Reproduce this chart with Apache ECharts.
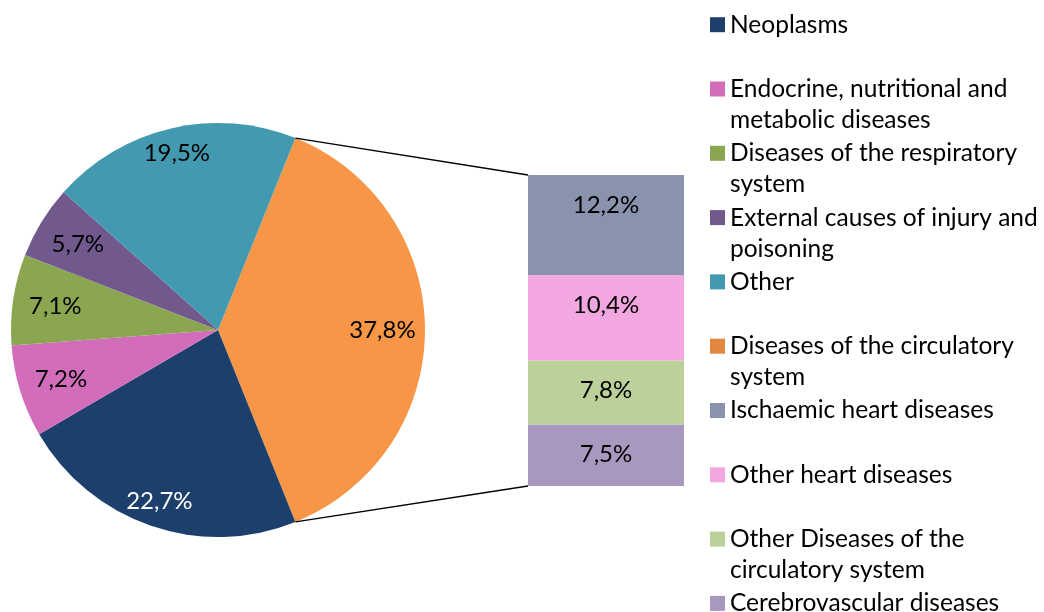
<!DOCTYPE html>
<html><head><meta charset="utf-8">
<script src="https://cdn.jsdelivr.net/npm/echarts@6/dist/echarts.min.js"></script>
<style>html,body{margin:0;padding:0;background:#fff}#c{width:1044px;height:612px}</style>
</head><body><div id="c"></div>
<script>
// ---- data ----
const pieNames = ['Diseases of the circulatory\nsystem', 'Neoplasms', 'Endocrine, nutritional and\nmetabolic diseases', 'Diseases of the respiratory\nsystem', 'External causes of injury and\npoisoning', 'Other'];
const pieValues = [37.8, 22.7, 7.2, 7.1, 5.7, 19.5];
const pieColors = ['#F79646', '#1C3F6B', '#D26DBB', '#8BA651', '#71598E', '#4399B0'];
const pieLabelColors = ['#000', '#fff', '#000', '#000', '#000', '#000'];
const pieLabelOuter = [false, true, false, false, false, true];

const barNames = ['Ischaemic heart diseases', 'Other heart diseases', 'Other Diseases of the\ncirculatory system', 'Cerebrovascular diseases'];
const barValues = [12.2, 10.4, 7.8, 7.5];
const barColors = ['#8A93AD', '#F2A7E0', '#BCD09A', '#A898BF'];

const legendNames = ['Neoplasms', 'Endocrine, nutritional and\nmetabolic diseases', 'Diseases of the respiratory\nsystem', 'External causes of injury and\npoisoning', 'Other', 'Diseases of the circulatory\nsystem', 'Ischaemic heart diseases', 'Other heart diseases', 'Other Diseases of the\ncirculatory system', 'Cerebrovascular diseases'];
const legendColors = ['#1C3F6B', '#D26DBB', '#8BA651', '#71598E', '#4399B0', '#E0883F', '#8A93AD', '#F2A7E0', '#BCD09A', '#A898BF'];

// ---- layout ----
const FONT = 'Lato';
const FS = 24.5;
const PFS = 24;
const LH = 31;
const CX = 218, CY = 330, R = 207;
const GL = 528, GT = 175, GW = 156, GH = 311;

const pieSum = pieValues.reduce((a, b) => a + b, 0);
const barSum = barValues.reduce((a, b) => a + b, 0);
const startAngle = pieValues[0] / pieSum * 360 / 2;
const fmt = v => v.toFixed(1).replace('.', ',') + '%';

const chart = echarts.init(document.getElementById('c'), null, { renderer: 'canvas' });

function labelPie(r0frac, outerFlag) {
  return {
    type: 'pie', center: [CX, CY], radius: [R * r0frac, R], startAngle: startAngle, clockwise: true,
    silent: true, avoidLabelOverlap: false, emphasis: { disabled: true }, z: 5,
    itemStyle: { color: 'rgba(0,0,0,0)', borderWidth: 0 },
    labelLine: { show: false },
    data: pieValues.map((v, i) => ({
      value: v,
      label: {
        show: pieLabelOuter[i] === outerFlag, position: 'inside', formatter: fmt(v),
        color: pieLabelColors[i], fontFamily: FONT, fontSize: PFS
      }
    }))
  };
}

const series = [{
  type: 'pie', center: [CX, CY], radius: [0, R], startAngle: startAngle, clockwise: true,
  avoidLabelOverlap: false, emphasis: { disabled: true }, silent: true,
  label: { show: false }, labelLine: { show: false },
  itemStyle: { borderWidth: 0 },
  data: pieValues.map((v, i) => ({ name: pieNames[i], value: v, itemStyle: { color: pieColors[i] } }))
}, labelPie(0.72, true), labelPie(0.56, false)];

for (let i = barValues.length - 1; i >= 0; i--) {
  series.push({
    type: 'bar', name: barNames[i], stack: 'circ', data: [barValues[i]],
    barWidth: '100%', barCategoryGap: 0, silent: true, emphasis: { disabled: true },
    itemStyle: { color: barColors[i] },
    label: {
      show: true, position: 'insideTop', distance: 18, formatter: fmt(barValues[i]),
      color: '#000', fontFamily: FONT, fontSize: PFS, lineHeight: 24
    }
  });
}

const iconC = i => 24.7 + 64.3 * i;
const legends = legendNames.map((n, i) => {
  const two = n.indexOf('\n') >= 0;
  return {
    data: [{ name: n, itemStyle: { color: legendColors[i] } }],
    formatter: nm => (two ? ' \n' : '') + nm,
    orient: 'vertical', left: 710, top: iconC(i) - (two ? 1.5 : 0.5) * LH,
    padding: 0, itemWidth: 15, itemHeight: 15, itemGap: 0, icon: 'rect', selectedMode: false,
    textStyle: { fontFamily: FONT, fontSize: FS, lineHeight: LH, color: '#000' }
  };
});

const a = startAngle * Math.PI / 180;
const px = CX + R * Math.cos(a), pyTop = CY - R * Math.sin(a), pyBot = CY + R * Math.sin(a);

chart.setOption({
  animation: false,
  backgroundColor: '#fff',
  legend: legends,
  grid: { left: GL, top: GT, width: GW, height: GH },
  xAxis: { type: 'category', data: ['circ'], show: false },
  yAxis: { type: 'value', min: 0, max: barSum, show: false },
  series: series,
  graphic: [
    { type: 'line', shape: { x1: px, y1: pyTop, x2: GL, y2: GT }, style: { stroke: '#000', lineWidth: 1.3 }, z: 10, silent: true },
    { type: 'line', shape: { x1: px, y1: pyBot, x2: GL, y2: GT + GH }, style: { stroke: '#000', lineWidth: 1.3 }, z: 10, silent: true }
  ]
});
</script></body></html>
